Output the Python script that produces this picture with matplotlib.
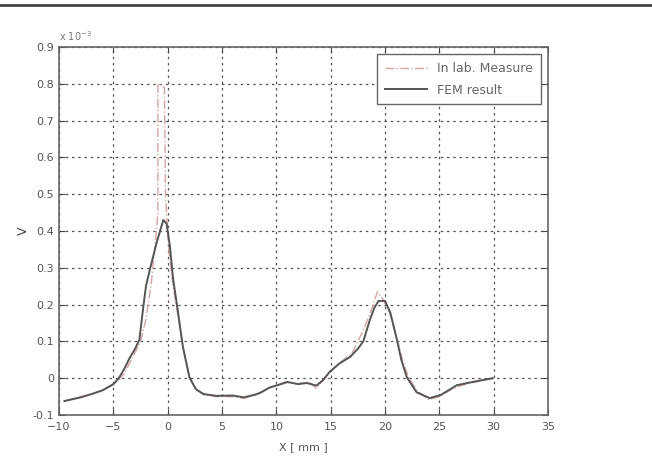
import matplotlib.pyplot as plt
import numpy as np
from matplotlib.lines import Line2D

# FEM result (units of 1e-3 V)
x_fem = [-9.5, -8, -7, -6, -5, -4.5, -4, -3.5, -3, -2.6, -2.3, -2.0, -1.6, -1.3, -1.0, -0.7, -0.4,
         -0.1, 0.2, 0.5, 0.9, 1.4, 2.0, 2.6, 3.3, 4.5, 6.0, 7.0, 8.0, 8.5, 9.4, 10.2, 11.0, 12.0,
         12.8, 13.7, 14.3, 14.9, 15.8, 16.8, 17.5, 18.0, 18.6, 19.0, 19.4, 20.0, 20.5, 21.1, 21.5,
         22.0, 22.9, 24.1, 25.1, 26.0, 26.6, 28.1, 29.0, 29.9]
y_fem = [-0.062, -0.052, -0.043, -0.033, -0.016, 0.0, 0.025, 0.055, 0.08, 0.105, 0.18, 0.25, 0.30,
         0.335, 0.37, 0.40, 0.43, 0.42, 0.36, 0.27, 0.19, 0.085, 0.003, -0.03, -0.043, -0.048,
         -0.047, -0.052, -0.045, -0.04, -0.025, -0.018, -0.01, -0.016, -0.013, -0.02, -0.005,
         0.017, 0.04, 0.058, 0.08, 0.10, 0.158, 0.19, 0.21, 0.21, 0.177, 0.104, 0.05, 0.003,
         -0.038, -0.054, -0.046, -0.03, -0.019, -0.01, -0.005, 0.0]

# In lab. measurement
x_meas = [-9.5, -8, -7, -6, -5, -4, -3, -2.5, -2.0, -1.5, -1.1, -0.9, -0.9, -0.3, -0.2, 0.1, 0.5,
          1.0, 1.5, 2.0, 2.6, 3.3, 4.5, 6.0, 7.0, 8.0, 9.0, 10.0, 11.0, 12.0, 13.0, 13.7, 14.3,
          15.0, 16, 17, 18, 18.8, 19.3, 19.8, 20.4, 21.0, 21.6, 22.2, 23, 24, 25, 26, 27, 28, 29, 30]
y_meas = [-0.062, -0.05, -0.043, -0.033, -0.018, 0.012, 0.07, 0.1, 0.16, 0.26, 0.38, 0.45, 0.80,
          0.79, 0.5, 0.35, 0.25, 0.16, 0.07, 0.0, -0.03, -0.045, -0.05, -0.05, -0.055, -0.047,
          -0.03, -0.02, -0.012, -0.015, -0.01, -0.028, -0.005, 0.02, 0.045, 0.07, 0.13, 0.19, 0.235,
          0.215, 0.18, 0.12, 0.05, 0.0, -0.035, -0.058, -0.05, -0.032, -0.02, -0.012, -0.006, 0.0]

xticks = [-10, -5, 0, 5, 10, 15, 20, 25, 30, 35]
yticks = [-0.1, 0, 0.1, 0.2, 0.3, 0.4, 0.5, 0.6, 0.7, 0.8, 0.9]
ytick_labels = ['-0.1', '0', '0.1', '0.2', '0.3', '0.4', '0.5', '0.6', '0.7', '0.8', '0.9']

plt.rcParams['font.family'] = 'DejaVu Sans'
plt.rcParams['font.size'] = 8

fig = plt.figure(figsize=(6.52, 4.67), dpi=100)
ax = fig.add_axes([0.0905, 0.1113, 0.7500, 0.7881])

ax.plot(x_meas, y_meas, linestyle='-.', color='#d4a5a5', linewidth=1.0, label='In lab. Measure')
ax.plot(x_fem, y_fem, linestyle='-', color='#555555', linewidth=1.4, label='FEM result')

ax.set_xlim(-10, 35)
ax.set_ylim(-0.1, 0.9)
ax.set_xticks(xticks)
ax.set_yticks(yticks)
ax.set_yticklabels(ytick_labels)
ax.tick_params(direction='in', top=True, right=True, length=4, colors='#444444', labelcolor='#555555')
ax.tick_params(axis='x', pad=5)
for s in ax.spines.values():
    s.set_color('#666666')
    s.set_linewidth(1.2)
ax.grid(True, linestyle=(0, (2, 3)), color='#555555', linewidth=0.9)

ax.set_xlabel('X [ mm ]', color='#555555', labelpad=7)
ax.set_ylabel('V', color='#444444', labelpad=2, fontsize=9)
ax.text(0.0, 1.015, r'x 10$^{-3}$', transform=ax.transAxes, fontsize=7, color='#777777')

leg = ax.legend(loc='upper right', fancybox=False, framealpha=1, edgecolor='#666666',
                handlelength=3.4, borderaxespad=0.6, fontsize=9, borderpad=0.6,
                labelspacing=0.7)
for t in leg.get_texts():
    t.set_color('#666666')

fig.add_artist(Line2D([0, 1], [1 - 5 / 467, 1 - 5 / 467], color='#444444', linewidth=2))

fig.savefig('out.png', dpi=100)
